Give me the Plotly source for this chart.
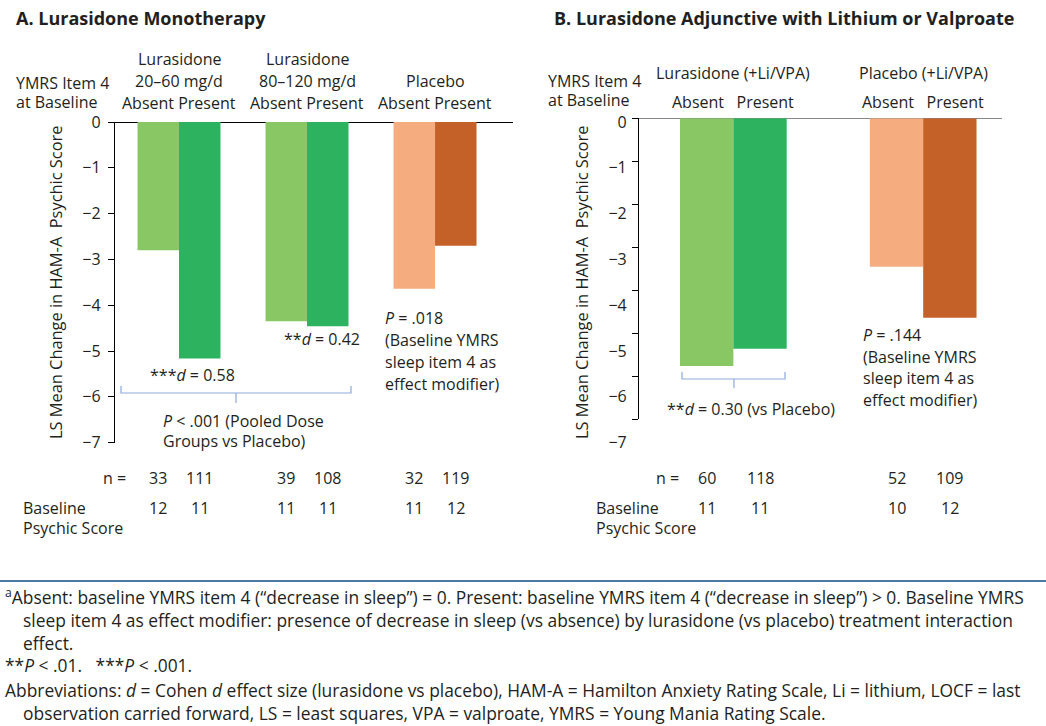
import plotly.graph_objects as go

# ---- Panel A: lurasidone monotherapy ----
groups_a = ["Lurasidone 20–60 mg/d", "Lurasidone 80–120 mg/d", "Placebo"]
absent_a = [-2.80, -4.35, -3.64]
present_a = [-5.16, -4.46, -2.70]
n_absent_a = [33, 39, 32]
n_present_a = [111, 108, 119]
base_absent_a = [12, 11, 11]
base_present_a = [11, 11, 12]

# ---- Panel B: lurasidone adjunctive with Li/VPA ----
groups_b = ["Lurasidone (+Li/VPA)", "Placebo (+Li/VPA)"]
absent_b = [-5.76, -3.45]
present_b = [-5.36, -4.64]
n_absent_b = [60, 52]
n_present_b = [118, 109]
base_absent_b = [11, 10]
base_present_b = [11, 12]

yticks = [0, -1, -2, -3, -4, -5, -6, -7]

GREEN_LIGHT = "#88C764"
GREEN = "#2DB35F"
PEACH = "#F5AC7F"
RUST = "#C36128"
BRACKET = "#8EAADB"
FONT = "Open Sans"
TXT = "#231F20"

W, H = 1046, 726


def px(x):
    return x / W


def py(y):
    return 1 - y / H


colors_abs_a = [GREEN_LIGHT, GREEN_LIGHT, PEACH]
colors_pre_a = [GREEN, GREEN, RUST]
colors_abs_b = [GREEN_LIGHT, PEACH]
colors_pre_b = [GREEN, RUST]

wa = 0.324   # bar width, panel A (category units)
wb = 0.281   # bar width, panel B

fig = go.Figure()
fig.add_trace(go.Bar(x=groups_a, y=absent_a, width=wa, offset=-wa,
                     marker=dict(color=colors_abs_a, line=dict(width=0)),
                     xaxis="x", yaxis="y", name="Absent"))
fig.add_trace(go.Bar(x=groups_a, y=present_a, width=wa, offset=0,
                     marker=dict(color=colors_pre_a, line=dict(width=0)),
                     xaxis="x", yaxis="y", name="Present"))
# label-only axis for panel B (labels sit on the panel A spacing)
fig.add_trace(go.Scatter(x=[groups_b[0]], y=[0], mode="markers",
                         marker=dict(opacity=0), xaxis="x2", yaxis="y3",
                         hoverinfo="skip", showlegend=False))
fig.add_trace(go.Bar(x=groups_b, y=absent_b, width=wb, offset=-wb,
                     marker=dict(color=colors_abs_b, line=dict(width=0)),
                     xaxis="x2", yaxis="y2", name="Absent"))
fig.add_trace(go.Bar(x=groups_b, y=present_b, width=wb, offset=0,
                     marker=dict(color=colors_pre_b, line=dict(width=0)),
                     xaxis="x2", yaxis="y2", name="Present"))

tickfont = dict(family=FONT, size=16, color=TXT)
ytitle = dict(text="LS Mean Change in HAM-A  Psychic Score",
              font=dict(family=FONT, size=16.4, color=TXT), standoff=15)

fig.update_layout(
    width=W, height=H, margin=dict(l=0, r=0, t=0, b=0, autoexpand=False),
    paper_bgcolor="white", plot_bgcolor="rgba(0,0,0,0)", showlegend=False,
    barmode="overlay",
    font=dict(family=FONT, color=TXT),
    xaxis=dict(domain=[px(115), px(513)], range=[-0.5, 2.609], anchor="y",
               showticklabels=False, ticks="", showgrid=False, zeroline=False,
               showline=False, fixedrange=True),
    yaxis=dict(domain=[py(442.7), py(122)], range=[-7, 0], anchor="x",
               tickvals=yticks, ticks="outside", ticklen=6, tickcolor="black",
               showline=True, linecolor="black", linewidth=1.3, showgrid=False,
               zeroline=True, zerolinecolor="black", zerolinewidth=1.3,
               tickfont=tickfont, title=ytitle, ticklabelstandoff=4),
    xaxis2=dict(domain=[px(638.7), px(1001.7)], range=[-0.4987, 1.4136], anchor="y2",
                showticklabels=False, ticks="", showgrid=False, zeroline=False,
                showline=False),
    yaxis2=dict(domain=[py(419.3), py(118.3)], range=[-7, 0], anchor="x2",
                tickvals=yticks, ticks="outside", ticklen=6, tickcolor="black",
                showticklabels=False,
                showline=True, linecolor="black", linewidth=1.3, showgrid=False,
                zeroline=True, zerolinecolor="#888888", zerolinewidth=1.3),
    yaxis3=dict(domain=[py(442.7), py(122)], range=[-7, 0], anchor="x2",
                tickvals=yticks, ticks="", showline=False, showgrid=False,
                zeroline=False, tickfont=tickfont, title=ytitle,
                ticklabelstandoff=11),
)

ann = []


def text(x, y, s, xref="paper", yref="paper", xanchor="center", size=16,
         family=FONT):
    ann.append(dict(x=x, y=y, xref=xref, yref=yref, text=s, showarrow=False,
                    xanchor=xanchor, yanchor="middle", align="left",
                    font=dict(family=family, size=size, color=TXT)))


# Panel titles
text(px(14), py(18), "<b>A. Lurasidone Monotherapy</b>", xanchor="left", size=18)
text(px(552), py(18), "<b>B. Lurasidone Adjunctive with Lithium or Valproate</b>",
     xanchor="left", size=18)

# Row header
for x0, y1, y2 in ((14, 83, 102), (546, 81, 100)):
    text(px(x0), py(y1), "YMRS Item 4", xanchor="left", size=16)
    text(px(x0), py(y2), "at Baseline", xanchor="left", size=16)

# Group headers, panel A
for g in groups_a:
    if g == "Placebo":
        text(g, py(81), "Placebo", xref="x", size=16)
    else:
        name, dose = g.split(" ", 1)
        text(g, py(59), name, xref="x", size=16)
        text(g, py(81), dose, xref="x", size=16)
    text(g, py(103), "Absent Present", xref="x", size=16)

# Group headers, panel B
for g in groups_b:
    text(g, py(73), g, xref="x2", size=16)
    text(g, py(102), "Absent   Present", xref="x2", size=16)

# n and baseline score rows under each bar
for (xref, groups, nA, nP, bA, bP, w) in (
    ("x", groups_a, n_absent_a, n_present_a, base_absent_a, base_present_a, wa),
    ("x2", groups_b, n_absent_b, n_present_b, base_absent_b, base_present_b, wb),
):
    for i, g in enumerate(groups):
        for val_n, val_b, off in ((nA[i], bA[i], -w / 2), (nP[i], bP[i], w / 2)):
            text(i + off, py(478), str(val_n), xref=xref, size=16)
            text(i + off, py(508), str(val_b), xref=xref, size=16)

text(px(128), py(478), "n =", xanchor="right", size=16)
text(px(21), py(508), "Baseline", xanchor="left", size=16)
text(px(21), py(528), "Psychic Score", xanchor="left", size=16)
text(px(681), py(478), "n =", xanchor="right", size=16)
text(px(594), py(508), "Baseline", xanchor="left", size=16)
text(px(594), py(528), "Psychic Score", xanchor="left", size=16)

# Effect-size and interaction annotations, panel A
text(px(192), py(375), "***<i>d</i> = 0.58", size=16)
text(px(322), py(339), "**<i>d</i> = 0.42", size=16)
text(px(161), py(421), "<i>P</i> < .001 (Pooled Dose", xanchor="left", size=16)
text(px(161), py(441), "Groups vs Placebo)", xanchor="left", size=16)
for k, s in enumerate(["<i>P</i> = .018", "(Baseline YMRS", "sleep item 4 as",
                       "effect modifier)"]):
    text(px(383), py(318 + 22 * k), s, xanchor="left", size=16)

# Panel B annotations
text(px(751), py(409), "**<i>d</i> = 0.30 (vs Placebo)", size=16)
for k, s in enumerate(["<i>P</i> = .144", "(Baseline YMRS", "sleep item 4 as",
                       "effect modifier)"]):
    text(px(861), py(335 + 21.5 * k), s, xanchor="left", size=16)

# Footnotes (continuation lines indented)
IND = "&nbsp;" * 4
FN_SIZE = 17.4
text(px(3), py(619.6),
     "<sup>a</sup>Absent: baseline YMRS item 4 (“decrease in sleep”) = 0. Present: "
     "baseline YMRS item 4 (“decrease in sleep”) > 0. Baseline YMRS<br>"
     + IND + "sleep item 4 as effect modifier: presence of decrease in sleep (vs absence) "
     "by lurasidone (vs placebo) treatment interaction<br>"
     + IND + "effect.", xanchor="left", size=FN_SIZE)
text(px(3), py(665), "**<i>P</i> < .01.   ***<i>P</i> < .001.", xanchor="left", size=FN_SIZE)
text(px(3), py(701.5),
     "Abbreviations: <i>d</i> = Cohen <i>d</i> effect size (lurasidone vs placebo), "
     "HAM-A = Hamilton Anxiety Rating Scale, Li = lithium, LOCF = last<br>"
     + IND + "observation carried forward, LS = least squares, VPA = valproate, "
     "YMRS = Young Mania Rating Scale.", xanchor="left", size=FN_SIZE)

fig.update_layout(annotations=ann)

# Brackets linking bars to effect sizes
shapes = []


def bracket(x0, x1, y, ytop, xm, ybot):
    line = dict(color=BRACKET, width=1.2)
    path = (f"M {px(x0)},{py(ytop)} L {px(x0)},{py(y)} L {px(x1)},{py(y)} "
            f"L {px(x1)},{py(ytop)} M {px(xm)},{py(y)} L {px(xm)},{py(ybot)}")
    shapes.append(dict(type="path", path=path, xref="paper", yref="paper", line=line))


bracket(121, 351, 393, 386, 236, 403)
bracket(682, 785, 379, 372, 734, 388)

# Rule above footnotes
shapes.append(dict(type="line", xref="paper", yref="paper", x0=0, x1=1,
                   y0=py(581), y1=py(581), line=dict(color="#4A78A0", width=2)))
fig.update_layout(shapes=shapes)

fig.write_html("out.html")
